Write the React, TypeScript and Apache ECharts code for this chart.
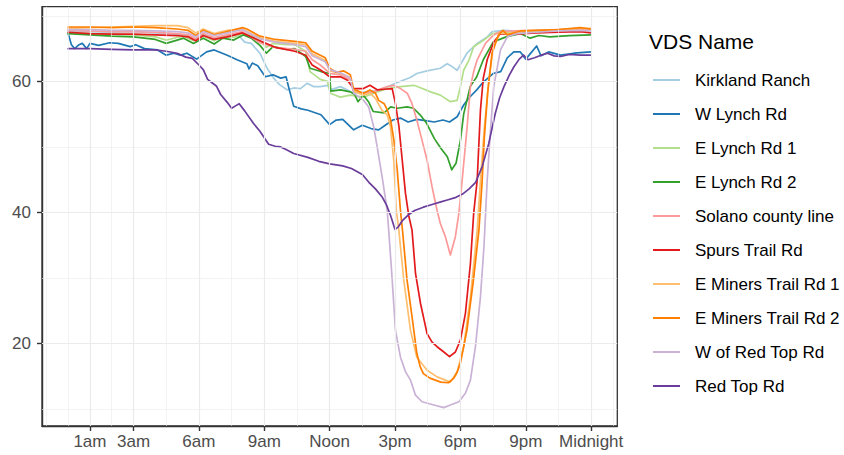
import { useEffect, useRef } from 'react';
import * as echarts from 'echarts';

// VDS stations, in legend order
const stationNames = [
  'Kirkland Ranch',
  'W Lynch Rd',
  'E Lynch Rd 1',
  'E Lynch Rd 2',
  'Solano county line',
  'Spurs Trail Rd',
  'E Miners Trail Rd 1',
  'E Miners Trail Rd 2',
  'W of Red Top Rd',
  'Red Top Rd',
];

// ColorBrewer "Paired"
const stationColors = [
  '#A6CEE3', '#1F78B4', '#B2DF8A', '#33A02C', '#FB9A99',
  '#E31A1C', '#FDBF6F', '#FF7F00', '#CAB2D6', '#6A3D9A',
];

// x axis: hour of day
const tickHours = [1, 3, 6, 9, 12, 15, 18, 21, 24];
const tickLabels = ['1am', '3am', '6am', '9am', 'Noon', '3pm', '6pm', '9pm', 'Midnight'];
const minorHours = [-1, 0, 2, 4.5, 7.5, 10.5, 13.5, 16.5, 19.5, 22.5, 25];
const yTicks = [20, 40, 60];
const yMinor = [10, 30, 50, 70];

// [hour, speed]
const kirklandRanch: [number, number][] = [
  [0, 67.7], [1, 67.6], [2, 67.5], [3, 67.6], [4, 67.4], [5, 67.2], [5.5, 67.0], [5.85, 66.4],
  [6.2, 67.1], [6.7, 66.5], [7.3, 66.9], [7.8, 67.1], [8.1, 66.0], [8.4, 65.8], [8.8, 64.3],
  [9.13, 62.0], [9.43, 60.5], [9.7, 59.5], [10.05, 58.7], [10.35, 59.0], [10.66, 58.9],
  [10.96, 59.7], [11.27, 59.2], [11.57, 59.2], [11.9, 59.4], [12.03, 58.7], [12.5, 59.2],
  [13.1, 58.2], [13.72, 58.4], [14.33, 58.7], [14.94, 59.6], [15.4, 60.2], [15.7, 60.6],
  [16.0, 61.2], [16.47, 61.6], [17.08, 62.0], [17.39, 62.7], [17.6, 62.3], [17.85, 61.7],
  [18.3, 64.3], [18.77, 65.8], [19.23, 66.8], [19.46, 67.6], [20, 67.8], [21, 67.6],
  [22, 67.7], [23, 67.8], [24, 67.9],
];

const wLynchRd: [number, number][] = [
  [0, 67.3], [0.15, 65.6], [0.3, 65.0], [0.5, 65.6], [0.65, 65.8], [0.85, 65.0], [1.0, 65.8],
  [1.4, 65.5], [1.9, 65.9], [2.3, 65.8], [2.85, 65.3], [3.1, 65.6], [3.5, 65.0], [4.1, 64.8],
  [4.5, 64.0], [4.85, 64.3], [5.15, 64.0], [5.45, 64.3], [5.9, 63.4], [6.35, 64.5], [6.7, 64.8],
  [7.3, 64.0], [7.75, 63.3], [8.2, 62.7], [8.3, 61.9], [8.45, 62.8], [8.7, 62.4], [9.05, 60.7],
  [9.4, 61.0], [9.75, 60.5], [10.0, 60.7], [10.15, 58.7], [10.35, 56.2], [10.7, 55.8],
  [11.0, 55.6], [11.6, 54.9], [12.0, 53.4], [12.3, 54.1], [12.6, 54.2], [13.1, 52.6],
  [13.5, 53.3], [13.9, 52.8], [14.25, 52.6], [14.55, 53.3], [14.9, 54.1], [15.25, 54.4],
  [15.6, 53.8], [16.0, 54.2], [16.4, 54.0], [16.8, 53.8], [17.2, 54.1], [17.5, 53.8],
  [17.85, 54.6], [18.15, 56.4], [18.4, 57.5], [18.75, 58.7], [19.05, 59.9], [19.5, 61.2],
  [19.85, 61.5], [20.15, 63.6], [20.45, 64.5], [20.75, 64.5], [21.0, 63.4], [21.2, 64.2],
  [21.5, 65.4], [21.7, 63.9], [22.05, 64.5], [22.6, 64.0], [23.2, 64.3], [24, 64.5],
];

const eLynchRd1: [number, number][] = [
  [0, 67.4], [1, 67.3], [2, 67.2], [3, 67.1], [4, 66.8], [4.5, 66.3], [5.0, 66.7], [5.3, 66.9],
  [5.75, 66.2], [6.2, 66.9], [6.7, 66.2], [7.1, 66.9], [7.6, 66.7], [8.05, 67.4], [8.4, 67.0],
  [8.8, 66.2], [9.1, 65.2], [9.4, 65.8], [10.0, 65.6], [10.4, 65.6], [10.9, 64.6], [11.1, 61.5],
  [11.57, 60.3], [11.9, 60.0], [12.03, 58.2], [12.49, 57.6], [12.95, 57.9], [13.56, 57.6],
  [14.18, 58.4], [14.64, 58.9], [15.25, 59.2], [15.86, 59.4], [16.2, 59.0], [16.63, 58.4],
  [17.08, 57.9], [17.54, 56.9], [17.85, 57.1], [18.0, 59.2], [18.15, 61.7], [18.4, 63.3],
  [18.61, 65.3], [19.07, 66.3], [19.46, 67.3], [20, 67.5], [21, 67.6], [22, 67.5], [23, 67.7],
  [24, 67.8],
];

const eLynchRd2: [number, number][] = [
  [0, 67.3], [1, 67.1], [2, 66.9], [3, 66.8], [4, 66.4], [4.5, 65.8], [5.0, 66.3], [5.3, 66.6],
  [5.75, 65.8], [6.2, 66.6], [6.7, 65.7], [7.1, 66.6], [7.6, 66.3], [8.05, 67.1], [8.4, 66.6],
  [8.8, 65.5], [9.1, 64.3], [9.4, 65.3], [10.0, 64.9], [10.4, 65.0], [10.9, 63.8], [11.1, 62.0],
  [11.6, 61.5], [12.0, 61.2], [12.05, 58.5], [12.5, 58.7], [12.95, 58.4], [13.15, 58.0],
  [13.3, 56.9], [13.55, 57.9], [13.8, 56.8], [14.0, 55.4], [14.5, 55.2], [14.8, 56.1],
  [15.1, 55.9], [15.55, 56.1], [15.85, 55.9], [16.15, 54.9], [16.45, 53.6], [16.8, 51.3],
  [17.1, 49.8], [17.4, 48.5], [17.6, 46.5], [17.8, 47.5], [18.0, 51.0], [18.15, 55.0],
  [18.45, 59.2], [18.75, 60.7], [19.05, 63.3], [19.5, 66.0], [20.1, 66.8], [20.75, 67.3],
  [21.2, 66.6], [21.6, 67.0], [22.1, 66.8], [23, 67.0], [24, 67.1],
];

const solanoCountyLine: [number, number][] = [
  [0, 67.8], [1, 67.7], [2, 67.6], [3, 67.6], [4, 67.5], [5, 67.3], [5.5, 67.1], [5.85, 66.5],
  [6.2, 67.3], [6.7, 66.7], [7.3, 67.1], [8.0, 67.6], [8.8, 65.9], [9.5, 65.2], [10.4, 64.9],
  [10.9, 64.6], [11.2, 63.3], [11.57, 62.5], [12.03, 61.2], [12.5, 61.0], [12.95, 60.2],
  [13.1, 58.4], [13.56, 58.2], [14.0, 58.4], [14.64, 59.2], [14.94, 59.4], [15.25, 58.9],
  [15.56, 58.2], [15.78, 56.6], [16.0, 54.1], [16.24, 51.0], [16.47, 48.0], [16.7, 43.9],
  [16.93, 40.3], [17.08, 38.3], [17.31, 36.3], [17.54, 33.5], [17.77, 36.3], [17.93, 39.9],
  [18.08, 44.9], [18.31, 53.1], [18.46, 59.2], [18.61, 61.5], [18.77, 63.3], [19.15, 65.8],
  [19.53, 67.1], [19.84, 67.6], [20.5, 67.7], [21.5, 67.8], [22.5, 67.9], [23.5, 68.0],
  [24, 67.9],
];

const spursTrailRd: [number, number][] = [
  [0, 67.5], [1, 67.3], [2, 67.2], [3, 67.2], [4, 67.1], [5, 67.0], [5.5, 66.8], [5.85, 66.2],
  [6.2, 67.0], [6.7, 66.4], [7.3, 66.8], [8.0, 67.4], [8.8, 66.2], [9.5, 65.2], [10.4, 64.6],
  [10.9, 64.0], [11.2, 62.5], [11.6, 61.7], [12.0, 60.7], [12.5, 60.7], [12.8, 60.2],
  [13.1, 58.9], [13.55, 58.9], [13.85, 59.4], [14.2, 58.7], [14.5, 58.8], [14.87, 58.9],
  [15.02, 56.6], [15.18, 53.1], [15.33, 48.0], [15.48, 42.9], [15.63, 39.5], [15.78, 37.3],
  [15.94, 30.7], [16.17, 26.1], [16.47, 21.5], [16.7, 20.2], [16.93, 19.5], [17.24, 18.7],
  [17.5, 18.0], [17.77, 18.7], [18.0, 20.5], [18.23, 24.6], [18.46, 32.2], [18.61, 39.9],
  [18.77, 44.9], [18.92, 55.6], [19.05, 60.5], [19.23, 63.3], [19.53, 66.0], [19.84, 67.3],
  [20.5, 67.2], [21.5, 67.4], [22.5, 67.5], [23.5, 67.6], [24, 67.4],
];

const eMinersTrailRd1: [number, number][] = [
  [0, 68.1], [1, 68.2], [2, 68.3], [3, 68.4], [4, 68.5], [5, 68.5], [5.5, 68.2], [5.85, 67.4],
  [6.2, 68.0], [6.7, 67.3], [7.3, 67.8], [8.0, 68.0], [8.8, 66.6], [9.5, 66.1], [10.4, 65.8],
  [10.9, 65.6], [11.2, 64.2], [11.8, 63.2], [12.0, 61.6], [12.5, 61.2], [12.95, 60.6],
  [13.1, 58.5], [13.55, 57.9], [13.85, 58.2], [14.1, 57.4], [14.4, 55.6], [14.64, 54.9],
  [14.79, 53.1], [14.94, 48.0], [15.06, 40.3], [15.17, 37.5], [15.4, 29.7], [15.71, 22.0],
  [16.0, 17.9], [16.47, 15.9], [16.93, 14.9], [17.31, 14.4], [17.54, 14.1], [17.85, 15.7],
  [18.15, 19.5], [18.46, 27.1], [18.77, 37.3], [18.92, 44.9], [19.1, 53.0], [19.3, 60.0],
  [19.5, 65.0], [19.8, 67.4], [20.2, 67.3], [21, 67.7], [22, 67.8], [23, 68.0], [24, 68.1],
];

const eMinersTrailRd2: [number, number][] = [
  [0, 68.3], [1, 68.3], [2, 68.2], [3, 68.3], [4, 68.2], [5, 68.0], [5.5, 67.8], [5.85, 67.0],
  [6.2, 67.8], [6.7, 67.1], [7.3, 67.6], [8.0, 68.2], [8.2, 68.0], [8.8, 66.9], [9.5, 66.4],
  [10.4, 66.1], [10.9, 65.9], [11.2, 64.6], [11.8, 63.6], [12.0, 62.0], [12.3, 61.4],
  [12.65, 61.6], [12.95, 61.0], [13.1, 58.8], [13.55, 58.2], [13.85, 58.7], [14.1, 58.2],
  [14.25, 57.1], [14.5, 56.6], [14.65, 55.6], [14.8, 54.1], [14.95, 51.0], [15.1, 46.5],
  [15.25, 40.3], [15.35, 37.0], [15.55, 29.7], [15.8, 23.6], [16.0, 18.5], [16.15, 16.5],
  [16.3, 15.4], [16.6, 14.7], [17.1, 14.1], [17.45, 14.0], [17.7, 14.7], [17.85, 15.6],
  [18.0, 17.0], [18.3, 22.0], [18.6, 29.7], [18.85, 37.3], [19.0, 44.9], [19.1, 51.5],
  [19.25, 58.2], [19.45, 64.3], [19.75, 67.1], [19.95, 67.8], [20.15, 67.1], [20.75, 67.7],
  [21.5, 67.8], [22.5, 67.9], [23.5, 68.2], [24, 68.0],
];

const wOfRedTopRd: [number, number][] = [
  [0, 67.9], [1, 67.9], [2, 67.8], [3, 67.8], [4, 67.7], [5, 67.6], [5.5, 67.4], [5.85, 66.8],
  [6.2, 67.6], [6.7, 67.0], [7.3, 67.4], [8.0, 67.9], [8.8, 66.5], [9.5, 66.0], [10.4, 65.6],
  [10.9, 65.3], [11.2, 63.9], [11.8, 63.0], [12.0, 61.8], [12.5, 61.3], [12.95, 60.5],
  [13.1, 58.2], [13.56, 57.1], [13.79, 56.1], [14.02, 53.1], [14.18, 50.0], [14.41, 45.4],
  [14.64, 40.3], [14.71, 37.3], [14.87, 29.7], [15.02, 22.0], [15.25, 17.9], [15.48, 15.7],
  [15.71, 14.4], [15.94, 12.1], [16.24, 11.1], [16.78, 10.6], [17.24, 10.2], [17.54, 10.6],
  [17.93, 11.1], [18.23, 12.4], [18.46, 14.4], [18.69, 19.5], [18.92, 27.1], [19.08, 34.7],
  [19.23, 44.9], [19.38, 52.5], [19.53, 59.2], [19.84, 64.8], [20.15, 66.8], [20.6, 67.3],
  [21.5, 67.5], [22.5, 67.7], [23.5, 67.8], [24, 67.7],
];

const redTopRd: [number, number][] = [
  [0, 65.0], [1, 65.0], [2, 64.9], [3, 64.8], [4, 64.8], [4.5, 64.6], [5, 64.3], [5.4, 63.7],
  [5.7, 63.5], [6, 62.5], [6.2, 61.8], [6.4, 60.3], [6.6, 59.8], [6.8, 59.3], [7, 58.0],
  [7.3, 56.8], [7.5, 55.9], [7.7, 56.3], [7.85, 56.6], [8.1, 55.5], [8.5, 53.6], [8.8, 52.4],
  [9.2, 50.4], [9.5, 50.1], [9.75, 50.0], [10, 49.6], [10.35, 49.0], [11, 48.4], [11.5, 47.8],
  [12, 47.4], [12.6, 47.1], [13, 46.7], [13.5, 45.8], [13.8, 44.6], [14.1, 43.6], [14.4, 42.4],
  [14.6, 41.2], [14.8, 39.5], [15, 37.4], [15.15, 37.8], [15.35, 38.8], [15.6, 39.6],
  [15.9, 40.3], [16.3, 40.8], [16.7, 41.2], [17.1, 41.6], [17.4, 41.9], [17.8, 42.3],
  [18.1, 42.8], [18.4, 43.6], [18.7, 44.6], [19, 47.0], [19.3, 50.5], [19.6, 55.1],
  [19.8, 57.5], [20, 59.2], [20.25, 61.0], [20.45, 62.2], [20.7, 63.4], [20.9, 64.0],
  [21.1, 63.3], [21.4, 63.6], [21.7, 64.0], [22, 64.3], [22.3, 63.9], [22.6, 63.8],
  [23, 64.1], [23.5, 64.0], [24, 64.0],
];

const stationData = [
  kirklandRanch, wLynchRd, eLynchRd1, eLynchRd2, solanoCountyLine,
  spursTrailRd, eMinersTrailRd1, eMinersTrailRd2, wOfRedTopRd, redTopRd,
];

const FONT = '"Liberation Sans", Arial, Helvetica, sans-serif';

export default function App() {
  const chartRef = useRef<HTMLDivElement>(null);

  useEffect(() => {
    if (!chartRef.current) return;
    const chart = echarts.init(chartRef.current, null, { renderer: 'svg' });

    const gridLine = (w: number) => ({ color: '#EBEBEB', width: w, type: 'solid' as const });

    // panel grid lines (major + minor), drawn under the data
    const gridSeries: any = {
      name: '__grid',
      type: 'line',
      data: [],
      z: 1,
      silent: true,
      markLine: {
        silent: true,
        symbol: ['none', 'none'],
        label: { show: false },
        emphasis: { disabled: true },
        animation: false,
        data: [
          ...minorHours.map((h) => ({ xAxis: h, lineStyle: gridLine(0.6) })),
          ...yMinor.map((v) => ({ yAxis: v, lineStyle: gridLine(0.6) })),
          ...tickHours.map((h) => ({ xAxis: h, lineStyle: gridLine(1.2) })),
          ...yTicks.map((v) => ({ yAxis: v, lineStyle: gridLine(1.2) })),
        ],
      },
    };

    const lineSeries = stationNames.map((name, i) => ({
      name,
      type: 'line',
      data: stationData[i],
      z: 2,
      showSymbol: false,
      symbol: 'none',
      lineStyle: { color: stationColors[i], width: 1.7, cap: 'round', join: 'round' },
      itemStyle: { color: stationColors[i] },
      emphasis: { disabled: true },
    }));

    const axisDark = { color: '#333333', width: 1.4 };

    chart.setOption({
      animation: false,
      textStyle: { fontFamily: FONT },
      title: {
        text: 'VDS Name',
        left: 649,
        top: 31,
        padding: 0,
        textStyle: { fontFamily: FONT, fontSize: 21, fontWeight: 'normal', color: '#000000' },
      },
      legend: {
        data: stationNames,
        orient: 'vertical',
        left: 653,
        top: 70,
        padding: 0,
        icon: 'rect',
        itemWidth: 27,
        itemHeight: 2,
        itemGap: 14,
        selectedMode: false,
        textStyle: {
          fontFamily: FONT,
          fontSize: 17,
          color: '#000000',
          lineHeight: 20,
          padding: [0, 0, 0, 10],
        },
      },
      grid: {
        left: 42,
        top: 6.7,
        width: 575.3,
        height: 419.3,
        show: true,
        borderColor: '#333333',
        borderWidth: 1.3,
        backgroundColor: '#FFFFFF',
      },
      xAxis: {
        type: 'value',
        min: -1.2,
        max: 25.2,
        splitLine: { show: false },
        axisLine: { show: true, onZero: false, lineStyle: axisDark },
        axisTick: {
          show: true,
          customValues: tickHours,
          length: 5,
          lineStyle: axisDark,
        },
        axisLabel: {
          customValues: tickHours,
          margin: 7,
          color: '#4D4D4D',
          fontFamily: FONT,
          fontSize: 17,
          formatter: (v: number) => tickLabels[tickHours.indexOf(v)] ?? '',
        },
      },
      yAxis: {
        type: 'value',
        min: 7.4,
        max: 71.4,
        splitLine: { show: false },
        axisLine: { show: true, onZero: false, lineStyle: axisDark },
        axisTick: {
          show: true,
          customValues: yTicks,
          length: 5,
          lineStyle: axisDark,
        },
        axisLabel: {
          customValues: yTicks,
          margin: 11,
          color: '#4D4D4D',
          fontFamily: FONT,
          fontSize: 17,
        },
      },
      series: [gridSeries, ...lineSeries],
    });

    return () => {
      chart.dispose();
    };
  }, []);

  return (
    <div
      ref={chartRef}
      style={{ position: 'absolute', left: 0, top: 0, width: 844, height: 455, background: '#FFFFFF' }}
    />
  );
}
